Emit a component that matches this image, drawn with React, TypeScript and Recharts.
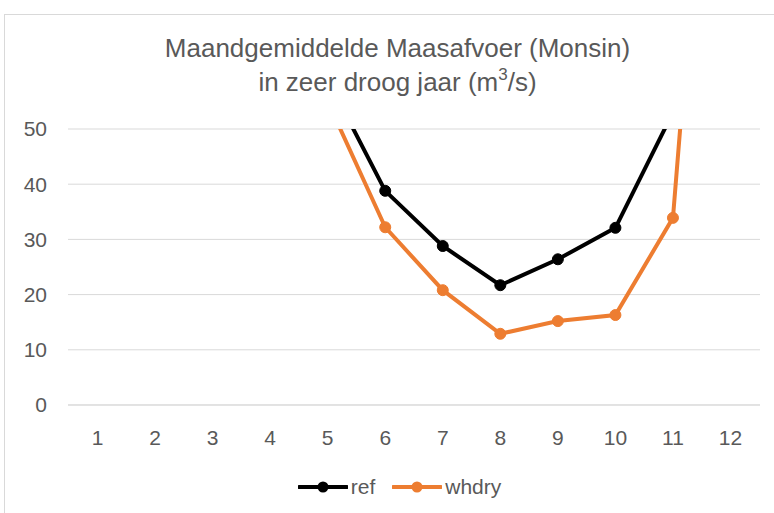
import React from "react";
import { LineChart, Line, XAxis, YAxis, CartesianGrid, Legend } from "recharts";

const months = ["1", "2", "3", "4", "5", "6", "7", "8", "9", "10", "11", "12"];
const refValues = [150, 140, 120, 85, 59, 38.8, 28.8, 21.7, 26.4, 32.1, 53, 110];
const whdryValues = [140, 130, 105, 75, 55, 32.2, 20.8, 12.9, 15.2, 16.3, 33.9, 163];
const yTicks = [0, 10, 20, 30, 40, 50];
const seriesNames = ["ref", "whdry"];
const seriesColors = ["#000000", "#ED7D31"];

const data = months.map((m, i) => ({ month: m, ref: refValues[i], whdry: whdryValues[i] }));

const FONT = "'Liberation Sans', Arial, sans-serif";
const TEXT = "#595959";

function LegendContent() {
  return (
    <div style={{ display: "flex", justifyContent: "center", alignItems: "center", height: 30, fontFamily: FONT, fontSize: 21, color: TEXT }}>
      {seriesNames.map((n, i) => (
        <div key={n} style={{ display: "flex", alignItems: "center", marginRight: i === 0 ? 17 : 0 }}>
          <svg width={50} height={14} style={{ marginRight: 3 }}>
            <line x1={1} y1={7} x2={49} y2={7} stroke={seriesColors[i]} strokeWidth={4} strokeLinecap="round" />
            <circle cx={25} cy={7} r={5.5} fill={seriesColors[i]} />
          </svg>
          <span>{n}</span>
        </div>
      ))}
    </div>
  );
}

export default function App() {
  return (
    <div style={{ position: "fixed", left: 0, top: 0, width: 774, height: 513, overflow: "hidden", background: "#fff" }}>
      <div style={{ position: "absolute", left: 4, top: 14, width: 800, height: 600, border: "1px solid #d9d9d9" }} />
      <div style={{ position: "absolute", left: 0, top: 31, width: 795, textAlign: "center", fontFamily: FONT, fontSize: 26, lineHeight: "34px", color: TEXT }}>
        <div>Maandgemiddelde Maasafvoer (Monsin)</div>
        <div>in zeer droog jaar (m<sup style={{ fontSize: 17, verticalAlign: "top", lineHeight: "20px" }}>3</sup>/s)</div>
      </div>
      <div style={{ position: "absolute", left: 0, top: 0 }}>
        <LineChart width={774} height={513} data={data} margin={{ top: 129, right: 14, left: 0, bottom: 48 }}>
          <CartesianGrid vertical={false} stroke="#d9d9d9" strokeWidth={1} />
          <XAxis
            dataKey="month"
            padding={{ left: 29.5, right: 29.5 }}
            axisLine={{ stroke: "#d9d9d9" }}
            tickLine={false}
            tickMargin={19}
            tick={{ fill: TEXT, fontSize: 21, fontFamily: FONT }}
            interval={0}
          />
          <YAxis
            domain={[0, 50]}
            ticks={yTicks}
            allowDataOverflow
            axisLine={false}
            tickLine={false}
            width={68}
            tickMargin={15}
            tick={{ fill: TEXT, fontSize: 21, fontFamily: FONT }}
          />
          <Legend verticalAlign="bottom" content={<LegendContent />} wrapperStyle={{ top: 472, bottom: "auto", left: 0, width: 799, height: 30 }} />
          {seriesNames.map((n, i) => (
            <Line
              key={n}
              dataKey={n}
              name={n}
              stroke={seriesColors[i]}
              strokeWidth={4}
              dot={{ r: 5.5, fill: seriesColors[i], stroke: seriesColors[i], strokeWidth: 1 }}
              activeDot={false}
              isAnimationActive={false}
            />
          ))}
        </LineChart>
      </div>
    </div>
  );
}
